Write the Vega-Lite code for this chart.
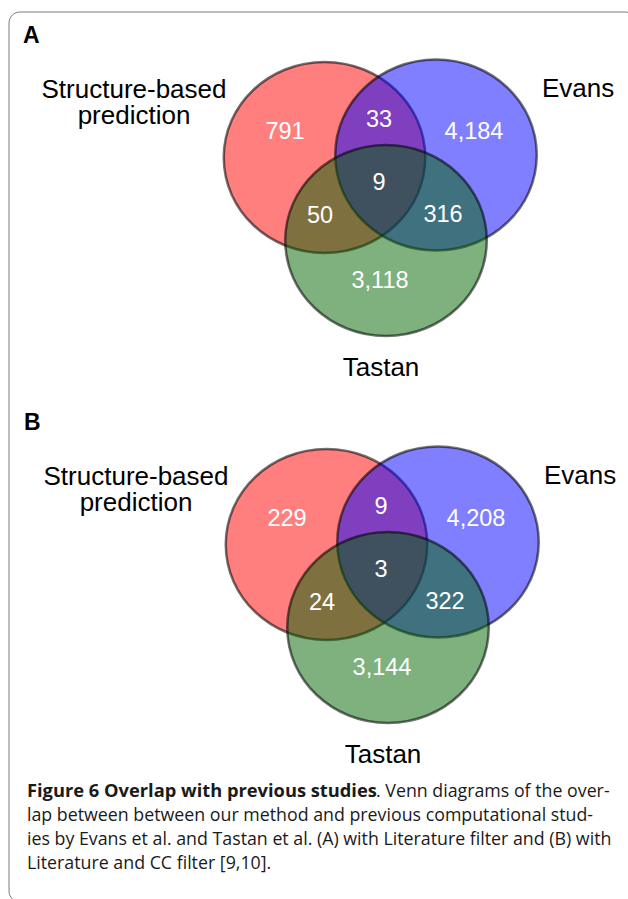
{
  "$schema": "https://vega.github.io/schema/vega-lite/v6.json",
  "width": 628,
  "height": 899,
  "padding": 0,
  "autosize": {"type": "none"},
  "background": "white",
  "config": {"view": {"stroke": null}},
  "datasets": {
    "frame": [{"x1": 9, "x2": 636, "y1": 12, "y2": 902}],
    "circles": [
      {"panel": "A", "set": "Structure-based prediction", "cx": 324.5, "cy": 157.5},
      {"panel": "A", "set": "Evans", "cx": 436, "cy": 155},
      {"panel": "A", "set": "Tastan", "cx": 386, "cy": 240.5},
      {"panel": "B", "set": "Structure-based prediction", "cx": 326.5, "cy": 544.5},
      {"panel": "B", "set": "Evans", "cx": 438, "cy": 542},
      {"panel": "B", "set": "Tastan", "cx": 388, "cy": 627.5}
    ],
    "counts": [
      {"panel": "A", "region": "Structure only", "n": "791", "x": 285, "y": 139},
      {"panel": "A", "region": "Structure & Evans", "n": "33", "x": 379, "y": 127},
      {"panel": "A", "region": "Evans only", "n": "4,184", "x": 474, "y": 139},
      {"panel": "A", "region": "All three", "n": "9", "x": 379, "y": 190},
      {"panel": "A", "region": "Structure & Tastan", "n": "50", "x": 320, "y": 223},
      {"panel": "A", "region": "Evans & Tastan", "n": "316", "x": 443, "y": 222},
      {"panel": "A", "region": "Tastan only", "n": "3,118", "x": 380, "y": 288},
      {"panel": "B", "region": "Structure only", "n": "229", "x": 287, "y": 526},
      {"panel": "B", "region": "Structure & Evans", "n": "9", "x": 381, "y": 514},
      {"panel": "B", "region": "Evans only", "n": "4,208", "x": 476, "y": 526},
      {"panel": "B", "region": "All three", "n": "3", "x": 381, "y": 577},
      {"panel": "B", "region": "Structure & Tastan", "n": "24", "x": 322, "y": 610},
      {"panel": "B", "region": "Evans & Tastan", "n": "322", "x": 445, "y": 609},
      {"panel": "B", "region": "Tastan only", "n": "3,144", "x": 382, "y": 675}
    ],
    "setnames": [
      {"panel": "A", "text": ["Structure-based", "prediction"], "x": 134, "y": 98},
      {"panel": "A", "text": ["Evans"], "x": 578, "y": 97},
      {"panel": "A", "text": ["Tastan"], "x": 381, "y": 376},
      {"panel": "B", "text": ["Structure-based", "prediction"], "x": 136, "y": 485},
      {"panel": "B", "text": ["Evans"], "x": 580, "y": 484},
      {"panel": "B", "text": ["Tastan"], "x": 383, "y": 763}
    ],
    "letters": [
      {"text": "A", "x": 23, "y": 43},
      {"text": "B", "x": 24, "y": 430}
    ],
    "captionBold": [
      {"text": "Figure 6 Overlap with previous studies", "x": 27, "y": 797}
    ],
    "captionRegular": [
      {"text": ". Venn diagrams of the over-", "x": 376, "y": 797},
      {"text": "lap between between our method and previous computational stud-", "x": 27, "y": 821},
      {"text": "ies by Evans et al. and Tastan et al. (A) with Literature filter and (B) with", "x": 27, "y": 845},
      {"text": "Literature and CC filter [9,10].", "x": 27, "y": 869}
    ]
  },
  "layer": [
    {
      "data": {"name": "frame"},
      "mark": {"type": "rect", "fill": "transparent", "stroke": "#7a7a7a", "strokeWidth": 1, "cornerRadius": 11, "clip": true},
      "encoding": {
        "x": {"field": "x1", "type": "quantitative", "scale": {"domain": [0, 628], "nice": false, "zero": false}, "axis": null},
        "x2": {"field": "x2"},
        "y": {"field": "y1", "type": "quantitative", "scale": {"domain": [0, 899], "nice": false, "zero": false, "reverse": true}, "axis": null},
        "y2": {"field": "y2"}
      }
    },
    {
      "data": {"name": "circles"},
      "mark": {"type": "point", "filled": true, "shape": "M-1.055,0A1.055,1,0,1,0,1.055,0A1.055,1,0,1,0,-1.055,0Z", "size": 36481, "fillOpacity": 0.5, "stroke": "#000000", "strokeOpacity": 0.55, "strokeWidth": 2.5},
      "encoding": {
        "x": {"field": "cx", "type": "quantitative"},
        "y": {"field": "cy", "type": "quantitative"},
        "color": {"field": "set", "type": "nominal", "scale": {"domain": ["Structure-based prediction", "Evans", "Tastan"], "range": ["#ff0000", "#0000ff", "#006400"]}, "legend": null}
      }
    },
    {
      "data": {"name": "counts"},
      "mark": {"type": "text", "font": "Liberation Sans", "fontSize": 23.5, "color": "white", "align": "center", "baseline": "alphabetic"},
      "encoding": {
        "x": {"field": "x", "type": "quantitative"},
        "y": {"field": "y", "type": "quantitative"},
        "text": {"field": "n"}
      }
    },
    {
      "data": {"name": "setnames"},
      "mark": {"type": "text", "font": "Liberation Sans", "fontSize": 26, "lineHeight": 26, "color": "black", "align": "center", "baseline": "alphabetic"},
      "encoding": {
        "x": {"field": "x", "type": "quantitative"},
        "y": {"field": "y", "type": "quantitative"},
        "text": {"field": "text"}
      }
    },
    {
      "data": {"name": "letters"},
      "mark": {"type": "text", "font": "Liberation Sans", "fontSize": 23, "fontWeight": "bold", "color": "black", "align": "left", "baseline": "alphabetic"},
      "encoding": {
        "x": {"field": "x", "type": "quantitative"},
        "y": {"field": "y", "type": "quantitative"},
        "text": {"field": "text"}
      }
    },
    {
      "data": {"name": "captionBold"},
      "mark": {"type": "text", "font": "Open Sans", "fontSize": 18.3, "fontWeight": "bold", "color": "#1a1a1a", "align": "left", "baseline": "alphabetic"},
      "encoding": {
        "x": {"field": "x", "type": "quantitative"},
        "y": {"field": "y", "type": "quantitative"},
        "text": {"field": "text"}
      }
    },
    {
      "data": {"name": "captionRegular"},
      "mark": {"type": "text", "font": "Open Sans", "fontSize": 17.8, "color": "#1a1a1a", "align": "left", "baseline": "alphabetic"},
      "encoding": {
        "x": {"field": "x", "type": "quantitative"},
        "y": {"field": "y", "type": "quantitative"},
        "text": {"field": "text"}
      }
    }
  ]
}
